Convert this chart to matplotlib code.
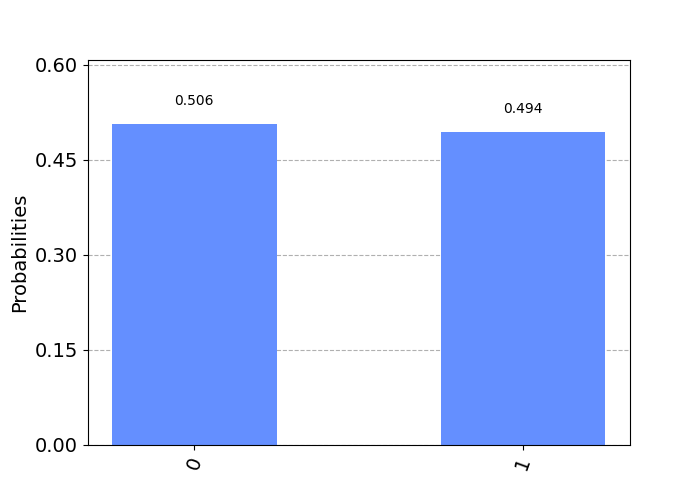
import matplotlib
matplotlib.use('Agg')
import matplotlib.pyplot as plt
from matplotlib.ticker import MaxNLocator

labels = ['0', '1']
probs = [0.506, 0.494]

fig, ax = plt.subplots(figsize=(7, 5), dpi=100)
xs = list(range(len(labels)))
bars = ax.bar(xs, probs, width=0.5, color='#648fff', zorder=2)
for rect, val in zip(bars, probs):
    h = rect.get_height()
    ax.text(rect.get_x() + rect.get_width() / 2., 1.05 * h, '%.3f' % val,
            ha='center', va='bottom', zorder=3)

ax.set_xticks(xs)
ax.set_xticklabels(labels, fontsize=14, rotation=70)
ax.yaxis.set_major_locator(MaxNLocator(5))
ax.set_ylim(0, 1.2 * max(probs))
for tick in ax.yaxis.get_major_ticks():
    tick.label1.set_fontsize(14)
ax.set_ylabel('Probabilities', fontsize=14)
ax.grid(axis='y', zorder=0, linestyle='--')

fig.savefig('out.png', dpi=100)
